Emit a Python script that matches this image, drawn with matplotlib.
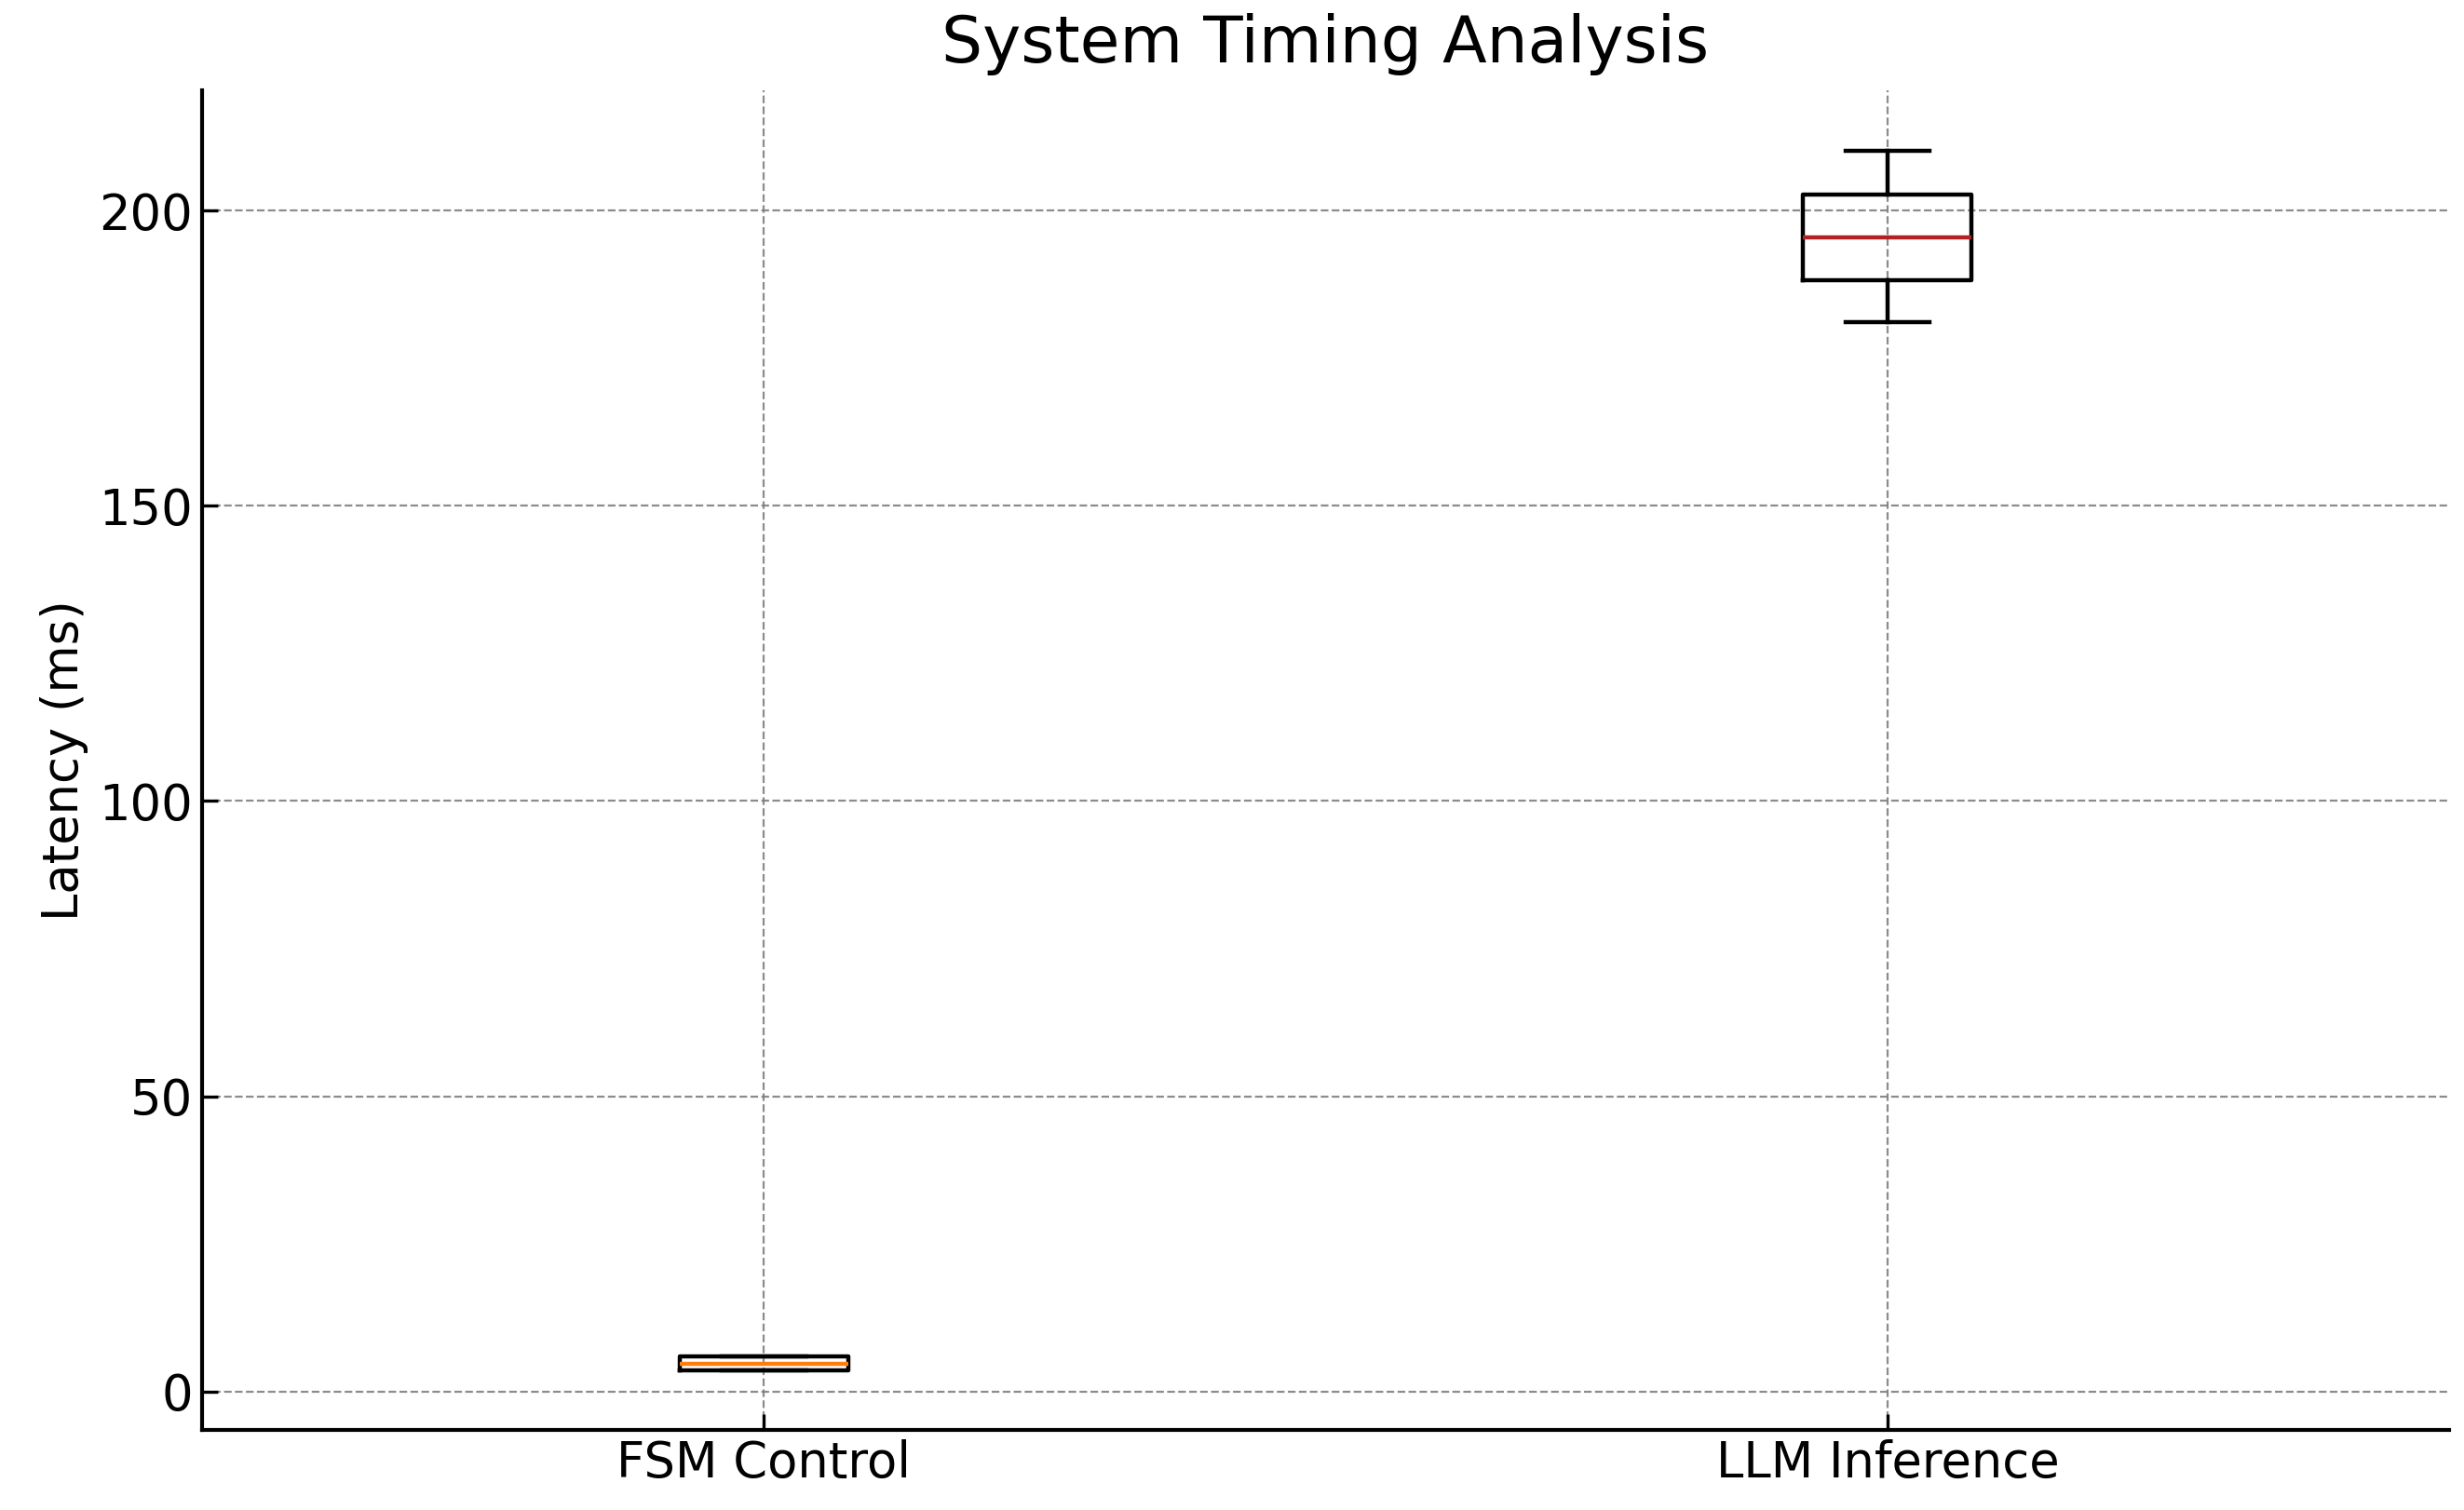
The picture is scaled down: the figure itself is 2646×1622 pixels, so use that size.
import matplotlib.pyplot as plt

# Box statistics (ms)
labels = ["FSM Control", "LLM Inference"]
whislo = [3.6, 181.1]
q1 = [3.6, 188.2]
med = [4.7, 195.4]
q3 = [6.0, 202.7]
whishi = [6.0, 210.1]
median_colors = ["#ff7f0e", "#b22222"]

stats = []
for i in range(len(labels)):
    stats.append({"label": labels[i], "whislo": whislo[i], "q1": q1[i],
                  "med": med[i], "q3": q3[i], "whishi": whishi[i], "fliers": []})

fig, ax = plt.subplots(figsize=(13.23, 8.11), dpi=200)

bp = ax.bxp(stats, showfliers=False,
            boxprops=dict(color="black", linewidth=1.6),
            whiskerprops=dict(color="black", linewidth=1.6),
            capprops=dict(color="black", linewidth=1.6),
            medianprops=dict(linewidth=1.6))
for line, c in zip(bp["medians"], median_colors):
    line.set_color(c)

ax.set_title("System Timing Analysis", fontsize=25, pad=11)
ax.set_ylabel("Latency (ms)", fontsize=19)
ax.tick_params(axis="both", labelsize=19, direction="in", length=6, width=1.2)
ax.set_yticks([0, 50, 100, 150, 200])
ax.grid(True, linestyle="--", color="gray", linewidth=0.8, alpha=0.9)
ax.set_axisbelow(True)
ax.spines["top"].set_visible(False)
ax.spines["right"].set_visible(False)
ax.spines["left"].set_linewidth(1.5)
ax.spines["bottom"].set_linewidth(1.5)
ax.set_xlim(0.5, 2.5)
ax.set_ylim(-6.5, 220.3)

fig.subplots_adjust(left=0.082, right=0.994, top=0.94, bottom=0.053)
fig.savefig("out.png", dpi=200)
